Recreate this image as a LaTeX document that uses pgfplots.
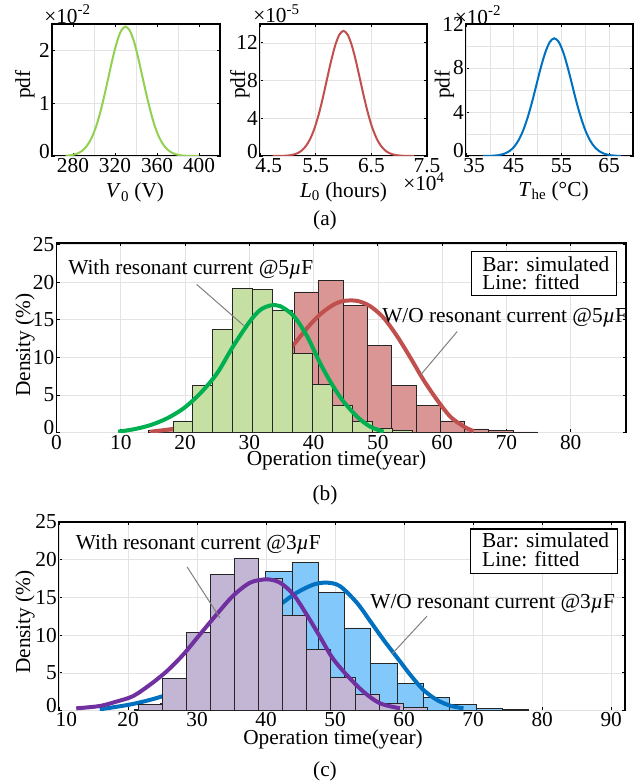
\documentclass[border=0pt]{standalone}
\usepackage{fontspec}
\setmainfont{Liberation Serif}
\usepackage{pgfplots}
\pgfplotsset{compat=1.18}

\definecolor{LineGreen}{HTML}{92D050}
\definecolor{LineRed}{HTML}{C0504D}
\definecolor{LineBlue}{HTML}{0070C0}
\definecolor{FitGreen}{HTML}{00B050}
\definecolor{FitPurple}{HTML}{7030A0}
\definecolor{BarGreen}{HTML}{C6E0A4}
\definecolor{BarRed}{HTML}{D99694}
\definecolor{BarBlue}{HTML}{82C8FA}
\definecolor{BarPurple}{HTML}{C3B6D4}
\definecolor{GridGray}{HTML}{E3E3E3}
\definecolor{NoteGray}{HTML}{808080}
\definecolor{EdgeGray}{HTML}{262626}

\newcommand{\fs}{\fontsize{16pt}{16pt}\selectfont}

\pgfplotsset{
  panel/.style={
    scale only axis, anchor=south west,
    axis line style={line width=0.9pt},
    tick style={line width=0.6pt, black},
    major tick length=2.5pt, minor tick length=0pt,
    grid style={line width=0.45pt, draw=GridGray},
    tick label style={font=\fs, inner sep=1.5pt},
    /pgf/number format/assume math mode=true,
  },
  pdfcurve/.style={smooth, line width=1.5pt, no markers},
  fitcurve/.style={smooth, line width=3pt, no markers, line join=round},
  hist/.style={ybar interval, draw=EdgeGray, line width=0.5pt},
}
\tikzset{note/.style={font=\fs, anchor=base west, inner sep=0pt}}

\begin{document}
\begin{tikzpicture}
\path[use as bounding box] (0,0) rectangle (480.75pt,-588pt);

% ---- (a) input distributions
\begin{axis}[panel, at={(39pt,-117pt)}, width=126pt, height=99pt,
  xmin=260, xmax=420, ymin=0, ymax=2.5,
  xtick={280,320,360,400}, minor xtick={300,340,380},
  ytick={1,2}, extra y ticks={0},
  extra y tick style={yticklabel style={yshift=3pt}},
  xminorgrids, ymajorgrids]
\addplot[pdfcurve, LineGreen] coordinates {
  (273.0,0.005) (277.0,0.012) (281.1,0.027) (285.2,0.056) (289.3,0.108)
  (293.3,0.195) (297.4,0.331) (301.5,0.530) (305.6,0.796) (309.6,1.122)
  (313.7,1.486) (317.8,1.849) (321.9,2.162) (325.9,2.375) (330.0,2.450)
  (334.1,2.375) (338.2,2.162) (342.2,1.849) (346.3,1.486) (350.4,1.122)
  (354.5,0.796) (358.5,0.530) (362.6,0.331) (366.7,0.195) (370.8,0.108)
  (374.8,0.056) (378.9,0.027) (383.0,0.012) (387.0,0.005) (391.1,0.002)
  (395.2,0.001) (400.0,0.000)};
\end{axis}

\begin{axis}[panel, at={(195pt,-117pt)}, width=125.25pt, height=99pt,
  xmin=4.5, xmax=7.5, ymin=0, ymax=14,
  xtick={5.5,6.5,7.5}, extra x ticks={4.5},
  extra x tick style={xticklabel style={xshift=6.5pt}},
  ytick={4,8,12}, extra y ticks={0},
  extra y tick style={yticklabel style={yshift=3.5pt}},
  grid=major]
\addplot[pdfcurve, LineRed] coordinates {
  (4.725,0.002) (4.8,0.004) (4.875,0.012) (4.95,0.029) (5.025,0.067)
  (5.1,0.147) (5.175,0.303) (5.25,0.583) (5.325,1.056) (5.4,1.795)
  (5.475,2.870) (5.55,4.309) (5.625,6.075) (5.7,8.05) (5.775,10.02)
  (5.85,11.71) (5.925,12.86) (6.0,13.27) (6.075,12.86) (6.15,11.71)
  (6.225,10.02) (6.3,8.05) (6.375,6.075) (6.45,4.309) (6.525,2.870)
  (6.6,1.795) (6.675,1.056) (6.75,0.583) (6.825,0.303) (6.9,0.147)
  (6.975,0.067) (7.05,0.029) (7.125,0.012) (7.2,0.004) (7.275,0.002)};
\end{axis}

\begin{axis}[panel, at={(349.5pt,-117pt)}, width=125.25pt, height=99pt,
  xmin=35, xmax=70, ymin=0, ymax=12,
  xtick={45,55,65}, minor xtick={40,50,60}, extra x ticks={35},
  extra x tick style={xticklabel style={xshift=6pt}},
  ytick={4,8,12}, minor ytick={2,6,10}, extra y ticks={0},
  extra y tick style={yticklabel style={yshift=4pt}},
  grid=both, minor grid style={line width=0.45pt, draw=GridGray}]
\addplot[pdfcurve, LineBlue] coordinates {
  (38.58,0.004) (39.51,0.009) (40.45,0.023) (41.38,0.054) (42.31,0.119)
  (43.24,0.244) (44.18,0.470) (45.11,0.852) (46.04,1.448) (46.97,2.314)
  (47.90,3.474) (48.84,4.898) (49.77,6.490) (50.70,8.076) (51.64,9.443)
  (52.57,10.37) (53.50,10.70) (54.43,10.37) (55.37,9.443) (56.30,8.076)
  (57.23,6.490) (58.16,4.898) (59.10,3.474) (60.03,2.314) (60.96,1.448)
  (61.89,0.852) (62.83,0.470) (63.76,0.244) (64.69,0.119) (65.62,0.054)
  (66.55,0.023) (67.49,0.009)};
\end{axis}

% ---- (b) 5 uF
\begin{axis}[panel, at={(42.375pt,-324.5pt)}, width=427.1pt, height=142.3pt,
  xmin=0, xmax=88.6, ymin=0, ymax=25.2,
  xtick={0,10,...,80}, ytick={5,10,...,25}, extra y ticks={0},
  extra y tick style={yticklabel style={yshift=3.75pt}},
  grid=major]
\addplot[hist, fill=BarRed] coordinates {
  (14.36,0.3) (18.14,0.5) (21.92,1.2) (25.69,2.8) (29.47,6.0) (33.25,12.0)
  (37.03,18.7) (40.80,20.2) (44.58,16.9) (48.36,11.6) (52.13,6.3)
  (55.91,3.6) (59.69,1.56) (63.47,0.49) (67.24,0.27) (71.02,0.1) (74.80,0.1)};
\addplot[fitcurve, LineRed] coordinates {
  (14.6,0.13) (17.7,0.45) (20,0.9) (23,1.8) (26,3.2) (29,5.0) (32,7.3)
  (34.5,9.4) (36.8,11.6) (39,13.9) (41,15.7) (43.1,17.0) (44.7,17.5)
  (46.8,17.5) (48.8,16.8) (50.9,15.25) (53,12.8) (55.1,9.9) (57.1,7.0)
  (59.2,4.36) (61.3,2.1) (63.4,0.8) (64.9,0.2)};
\addplot[hist, fill=BarGreen] coordinates {
  (18.1,1.56) (21.2,6.27) (24.3,13.7) (27.4,19.2) (30.5,19.0) (33.6,16.3)
  (36.7,10.5) (39.8,6.36) (42.9,3.6) (46.0,1.47) (49.1,0.58) (52.2,0.27)
  (55.3,0.27)};
\addplot[fitcurve, FitGreen] coordinates {
  (9.6,0.13) (12.0,0.45) (14.6,1.0) (17.2,1.9) (19.8,3.25) (22.4,5.25)
  (25.0,7.9) (27.5,11.5) (30.1,14.8) (31.7,16.3) (33.3,16.9) (34.8,16.8)
  (36.9,15.5) (39.0,12.8) (41.0,9.25) (42.8,6.5) (44.5,4.3) (46.8,2.1)
  (48.8,0.8) (50.9,0.13)};
\draw[NoteGray, line width=0.75pt] (axis cs:21.81,19.69) -- (axis cs:29.13,14.23);
\draw[NoteGray, line width=0.75pt] (axis cs:62.34,13.43) -- (axis cs:56.67,7.69);
\node[note] at (axis cs:1.79,21.03) {With resonant current @5\textit{µ}F};
\node[note] at (axis cs:50.65,14.59) {W/O resonant current @5\textit{µ}F};
\draw[line width=0.8pt, fill=white] (axis cs:64.52,24.05) rectangle (axis cs:87.1,18.23);
\node[note] at (axis cs:66.23,21.47) {Bar: simulated};
\node[note] at (axis cs:66.23,19.03) {Line: fitted};
\end{axis}

% ---- (c) 3 uF
\begin{axis}[panel, at={(44.25pt,-532.9pt)}, width=424.5pt, height=141.4pt,
  xmin=10, xmax=92, ymin=0, ymax=25,
  xtick={20,30,...,90}, extra x ticks={10},
  extra x tick style={xticklabel style={xshift=5.5pt}},
  ytick={5,10,...,25}, extra y ticks={0},
  extra y tick style={yticklabel style={yshift=3.75pt}},
  grid=major]
\addplot[hist, fill=BarBlue] coordinates {
  (20.91,0.2) (24.72,1.0) (28.52,2.8) (32.33,6.0) (36.13,12.5) (39.94,18.5)
  (43.75,19.6) (47.55,15.7) (51.36,10.96) (55.16,6.3) (58.97,3.6)
  (62.78,1.7) (66.58,0.8) (70.39,0.25) (74.19,0.1) (78.0,0.1)};
\addplot[fitcurve, LineBlue] coordinates {
  (15.9,0.16) (20.7,0.87) (25.1,1.93) (28,3.2) (31,5.2) (34,7.6) (37,10.3)
  (40,12.7) (42.4,14.3) (44.4,15.6) (46.85,16.7) (48.8,16.96) (50.7,16.5)
  (53.15,14.3) (55.1,11.84) (57.0,9.4) (58.96,7.05) (60.9,4.73) (62.8,2.73)
  (64.76,1.4) (66.7,0.64) (68.6,0.29)};
\addplot[hist, fill=BarPurple] coordinates {
  (21.45,0.82) (24.94,4.3) (28.43,10.4) (31.92,18.0) (35.41,20.2)
  (38.9,17.5) (42.39,12.6) (45.88,8.16) (49.37,4.4) (52.86,2.2)
  (56.35,0.95) (59.84,0.4) (63.33,0.4)};
\addplot[fitcurve, FitPurple] coordinates {
  (12.5,0.29) (15.9,0.6) (18.3,1.18) (20.7,1.9) (23.15,3.4) (25.6,5.2)
  (27.98,7.4) (30.4,10.07) (32.8,12.7) (35.2,15.2) (37.7,16.96) (40.1,17.4)
  (42.0,16.96) (43.95,15.4) (45.9,12.7) (47.8,9.8) (49.6,7.0) (51.7,4.7)
  (54.1,2.5) (56.5,0.96) (59.4,0.29)};
\draw[NoteGray, line width=0.75pt] (axis cs:28.56,19.04) -- (axis cs:33.31,12.29);
\draw[NoteGray, line width=0.75pt] (axis cs:63.31,12.51) -- (axis cs:58.23,7.49);
\node[note] at (axis cs:12.41,21.4) {With resonant current @3\textit{µ}F};
\node[note] at (axis cs:55.08,13.53) {W/O resonant current @3\textit{µ}F};
\draw[line width=0.8pt, fill=white] (axis cs:69.59,24.07) rectangle (axis cs:90.88,18.2);
\node[note] at (axis cs:71.28,21.63) {Bar: simulated};
\node[note] at (axis cs:71.28,19.09) {Line: fitted};
\end{axis}

% ---- labels, positions in pixels of the reference
\begin{scope}[x=0.75pt, y=-0.75pt, every node/.style={font=\fs, inner sep=0pt}]
\node[rotate=90] at (25,84.5) {pdf};
\node[rotate=90] at (240,84.5) {pdf};
\node[rotate=90] at (444.5,84.5) {pdf};
\node at (135,192.5) {\textit{V}\textsubscript{0} (V)};
\node at (343.5,192) {\textit{L}\textsubscript{0} (hours)};
\node at (553.5,191) {\textit{T}\textsubscript{he} (°C)};
\node at (67.5,14) {×10\textsuperscript{-2}};
\node at (276.5,14) {×10\textsuperscript{-5}};
\node at (478,15) {×10\textsuperscript{-2}};
\node at (424,182) {×10\textsuperscript{4}};
\node at (325,220) {(a)};
\node[rotate=90] at (25,345) {Density (\%)};
\node at (336.5,460) {Operation time(year)};
\node at (325,495) {(b)};
\node[rotate=90] at (25,622) {Density (\%)};
\node at (333,739.5) {Operation time(year)};
\node at (325,771) {(c)};
\end{scope}
\end{tikzpicture}
\end{document}
